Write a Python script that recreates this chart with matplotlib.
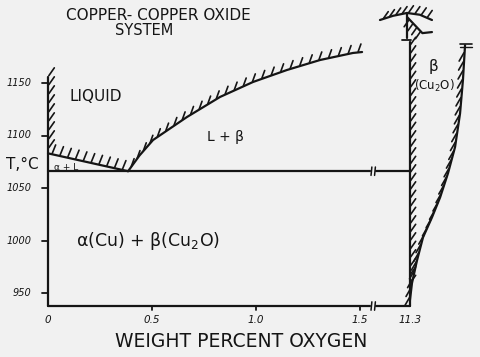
import numpy as np
import matplotlib
matplotlib.use("Agg")
import matplotlib.pyplot as plt

# x is in plot units (wt% O left of the break, squeezed right of it)
x_ticks = [0, 0.5, 1.0, 1.5, 1.74]
x_tick_labels = ["0", "0.5", "1.0", "1.5", "11.3"]
y_ticks = [950, 1000, 1050, 1100, 1150]

t_eutectic = 1066
x_break = 1.558
x_cu2o = 1.74
t_bottom = 937.6

# liquidus on the copper side
liq_left_x = [0.0, 0.385]
liq_left_t = [1083, 1066]

# liquidus on the oxide side
liq_right_x = [0.385, 0.44, 0.505, 0.668, 0.827, 0.986, 1.149, 1.308, 1.466, 1.51]
liq_right_t = [1066, 1081, 1095.7, 1117.6, 1136.7, 1151, 1162.4, 1171.9, 1178.6, 1179.5]

# beta (Cu2O) boundaries
cu2o_t = [937.6, 1189]
beta_x = [1.74, 1.75, 1.774, 1.803, 1.846, 1.885, 1.923, 1.957, 1.981, 1.995, 2.005]
beta_t = [943, 959.5, 981, 1003, 1022, 1041, 1064, 1089, 1121, 1153, 1186]

# melting point bits at the top
arc_x = [1.596, 1.659, 1.726, 1.788, 1.846]
arc_t = [1210, 1214, 1216.7, 1215, 1210]
stem_x = [1.726, 1.726]
stem_t = [1216.7, 1193]
diag_x = [1.728, 1.80, 1.846]
diag_t = [1212.5, 1197.5, 1198.5]

ink = "#151515"
bg = "#f1f1f1"

fig = plt.figure(figsize=(4.8, 3.57), dpi=100, facecolor=bg)
ax = fig.add_axes([0, 0, 1, 1])
ax.set_facecolor(bg)
ax.set_xlim(-48 / 208, 432 / 208)
ax.set_ylim(1150 - 274 / 1.05, 1150 + 83 / 1.05)
ax.axis("off")


def line(xs, ys, lw=1.6):
    ax.plot(xs, ys, color=ink, lw=lw, solid_capstyle="round")


def hatch(xs, ys, side=1, spacing=9, length=10, angle=62, gap=1.0):
    # short slanted strokes along a boundary, worked out in pixels
    pts = ax.transData.transform(np.column_stack([xs, ys]))
    seg = np.hypot(*np.diff(pts, axis=0).T)
    s = np.concatenate([[0], np.cumsum(seg)])
    ss = np.arange(spacing / 2, s[-1], spacing)
    px = np.interp(ss, s, pts[:, 0])
    py = np.interp(ss, s, pts[:, 1])
    a = np.radians(angle)
    u = np.array([np.cos(a), np.sin(a)]) * side
    inv = ax.transData.inverted()
    for x0, y0 in zip(px, py):
        p0 = np.array([x0, y0]) + u * gap
        p1 = np.array([x0, y0]) + u * length
        p = inv.transform([p0, p1])
        ax.plot(p[:, 0], p[:, 1], color=ink, lw=1.2, solid_capstyle="round")


# axes with the break
line([0, 0], [t_bottom, 1156])
line([0, x_break - 0.01], [t_bottom, t_bottom])
line([x_break + 0.02, x_cu2o], [t_bottom, t_bottom])
for xb in [x_break - 0.005, x_break + 0.012]:
    line([xb, xb + 0.004], [t_bottom - 4, t_bottom + 4], lw=1.1)

for t in y_ticks:
    line([-0.03, 0], [t, t], lw=1.3)
for xt in x_ticks[1:4]:
    line([xt, xt], [t_bottom, t_bottom - 4], lw=1.3)

# eutectic line with the same break
line([0, x_break - 0.01], [t_eutectic, t_eutectic])
line([x_break + 0.02, x_cu2o], [t_eutectic, t_eutectic])
for xb in [x_break - 0.005, x_break + 0.012]:
    line([xb, xb + 0.004], [t_eutectic - 4, t_eutectic + 4], lw=1.1)

# hatched boundaries
hatch([0, 0], [1083, 1157], side=1, angle=55, length=11, spacing=9, gap=1.5)
line(liq_left_x, liq_left_t)
hatch(liq_left_x, liq_left_t, side=1, angle=68, length=10, spacing=8)
line(liq_right_x, liq_right_t)
hatch(liq_right_x, liq_right_t, side=1, angle=70, length=9, spacing=10)

line([x_cu2o, x_cu2o], cu2o_t)
hatch([x_cu2o, x_cu2o], [955, 1189], side=1, angle=55, length=10, spacing=8.5, gap=1.5)
line(beta_x, beta_t)
hatch(beta_x, beta_t, side=-1, angle=60, length=11, spacing=9, gap=1.5)
line([1.98, 2.04], [1187, 1187], lw=1.2)
line([1.98, 2.04], [1184, 1184], lw=1.0)

line(arc_x, arc_t)
hatch(arc_x, arc_t, side=1, angle=55, length=9, spacing=6.5)
line(stem_x, stem_t)
line([1.70, 1.745], [1191, 1191], lw=1.3)
line(diag_x, diag_t)
hatch(diag_x[:2], diag_t[:2], side=-1, angle=55, length=9, spacing=5.5)

# text
ax.text(0.53, 1214, "COPPER- COPPER OXIDE", ha="center", va="center", fontsize=11, color=ink)
ax.text(0.46, 1200, "SYSTEM", ha="center", va="center", fontsize=10.5, color=ink)
for t in y_ticks:
    ax.text(-0.08, t, str(t), ha="right", va="center", fontsize=7, style="italic", color=ink)
ax.text(-0.20, 1072, "T,°C", ha="left", va="center", fontsize=11, color=ink)
for xt, lab in zip(x_ticks, x_tick_labels):
    ax.text(xt, t_bottom - 13, lab, ha="center", va="center", fontsize=7.5, style="italic", color=ink)
ax.text(0.93, t_bottom - 34, "WEIGHT PERCENT OXYGEN", ha="center", va="center", fontsize=13.5, color=ink)

ax.text(0.23, 1137, "LIQUID", ha="center", va="center", fontsize=11, color=ink)
ax.text(0.085, 1070, "α + L", ha="center", va="center", fontsize=6.5, color=ink)
ax.text(0.855, 1099, "L + β", ha="center", va="center", fontsize=10, color=ink)
ax.text(0.48, 1000, "α(Cu) + β(Cu$_2$O)", ha="center", va="center", fontsize=12.5, color=ink)
ax.text(1.855, 1166, "β", ha="center", va="center", fontsize=11, color=ink)
ax.text(1.86, 1147, "(Cu$_2$O)", ha="center", va="center", fontsize=8.5, color=ink)

fig.savefig("out.png", dpi=100, facecolor=bg)
